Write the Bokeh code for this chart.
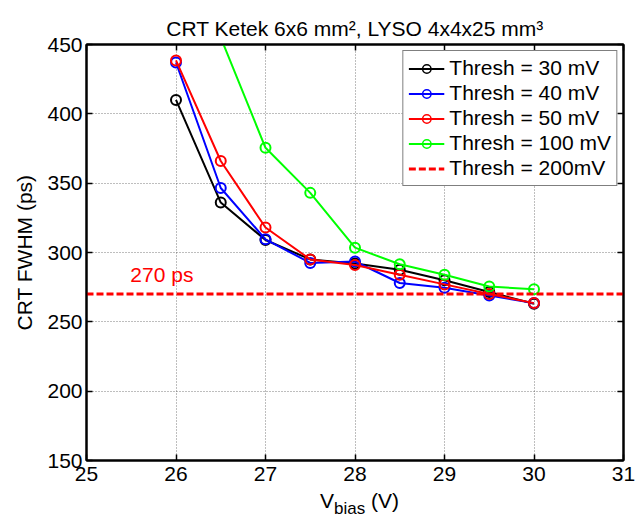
import numpy as np
from bokeh.plotting import figure
from bokeh.layouts import column
from bokeh.models import Range1d, LinearAxis, Label, Legend, LegendItem, FixedTicker, ColumnDataSource, Div
from bokeh.embed import file_html
from bokeh.resources import INLINE

# ---- data ----
vbias = [26, 26.5, 27, 27.5, 28, 28.5, 29, 29.5, 30]
crt_30mv = [410, 336, 309, 295, 292, 287.5, 280, 271.5, 263]
crt_40mv = [437, 346.5, 309.5, 292.5, 293.5, 278, 274.5, 269, 263.5]
crt_50mv = [438.5, 366, 318, 295, 291, 284, 277, 270, 263.5]
crt_100mv = [520, 455, 375.5, 343, 303.5, 291.5, 284, 275.5, 273.5]
thresh_200mv_level = 270
x_range_limits = [25, 31]
x_ticks = [25, 26, 27, 28, 29, 30, 31]
y_ticks = [150, 200, 250, 300, 350, 400, 450]
series_labels = ["Thresh = 30 mV", "Thresh = 40 mV", "Thresh = 50 mV", "Thresh = 100 mV"]
level_label = "Thresh = 200mV"
level_text = "270 ps"

FONT = "Liberation Sans"
colors = ["#000000", "#0000FF", "#FF0000", "#00FF00"]

p = figure(width=643, height=490, output_backend="svg", toolbar_location=None,
           x_range=Range1d(25, 31), y_range=Range1d(150, 450),
           min_border_left=86, min_border_right=20, min_border_top=44, min_border_bottom=30,
           background_fill_color="white", border_fill_color="white")

p.title.text = "CRT Ketek 6x6 mm\u00b2, LYSO 4x4x25 mm\u00b3"
p.title.align = "center"
p.title.text_font = FONT
p.title.text_font_style = "normal"
p.title.text_font_size = "21px"
p.title.text_color = "black"

p.outline_line_color = "black"
p.outline_line_width = 2

for ax in [p.xaxis[0], p.yaxis[0]]:
    ax.axis_line_width = 2
    ax.axis_line_color = "black"
    ax.major_tick_in = 6
    ax.major_tick_out = 0
    ax.major_tick_line_width = 1.5
    ax.minor_tick_line_color = None
    ax.major_label_text_font = FONT
    ax.major_label_text_font_size = "21px"
    ax.major_label_text_color = "black"
p.xaxis[0].ticker = FixedTicker(ticks=x_ticks)
p.yaxis[0].ticker = FixedTicker(ticks=y_ticks)
p.xaxis[0].major_label_standoff = 6
p.yaxis[0].major_label_standoff = 4
p.yaxis[0].axis_label = "CRT FWHM (ps)"
p.yaxis[0].axis_label_text_font = FONT
p.yaxis[0].axis_label_text_font_style = "normal"
p.yaxis[0].axis_label_text_font_size = "21px"
p.yaxis[0].axis_label_text_color = "black"
p.yaxis[0].axis_label_standoff = 8

for loc, tk in [("above", x_ticks), ("right", y_ticks)]:
    ax = LinearAxis(ticker=FixedTicker(ticks=tk), major_label_text_font_size="0px",
                    major_label_text_color=None,
                    major_tick_in=6, major_tick_out=0, major_tick_line_width=1.5,
                    minor_tick_line_color=None, axis_line_width=2, major_label_standoff=0)
    p.add_layout(ax, loc)

p.grid.grid_line_color = "#444444"
p.grid.grid_line_alpha = 0.7
p.grid.grid_line_dash = "1 2"
p.grid.grid_line_width = 1
p.xgrid.ticker = FixedTicker(ticks=x_ticks)
p.ygrid.ticker = FixedTicker(ticks=y_ticks)

items = []
for vals, col, lab in zip([crt_30mv, crt_40mv, crt_50mv, crt_100mv], colors, series_labels):
    src = ColumnDataSource(dict(x=vbias, y=vals))
    ln = p.line("x", "y", source=src, line_color=col, line_width=2)
    p.scatter("x", "y", source=src, marker="circle", size=10, line_color=col,
              line_width=2, fill_color=None)
    dummy = p.scatter(x=[np.nan], y=[np.nan], marker="circle", size=6, line_color=col,
                      line_width=1.5, fill_color=None)
    items.append(LegendItem(label=lab, renderers=[ln, dummy]))

lvl_src = ColumnDataSource(dict(x=x_range_limits, y=[thresh_200mv_level] * 2))
lvl = p.line("x", "y", source=lvl_src, line_color="#FF0000", line_width=3, line_dash="7 3")
items.append(LegendItem(label=level_label, renderers=[lvl]))

legend = Legend(items=items, location="top_right", margin=6, padding=5, spacing=1,
                label_text_font=FONT, label_text_font_size="21px", label_text_color="black",
                label_height=21, glyph_height=21, glyph_width=36, label_standoff=5,
                border_line_color="black", border_line_width=1.5,
                background_fill_color="white", background_fill_alpha=1.0)
p.add_layout(legend)

p.add_layout(Label(x=25.49, y=thresh_200mv_level, y_offset=20, text=level_text,
                   text_color="#FF0000", text_font=FONT, text_font_size="21px",
                   text_baseline="alphabetic"))

xlabel_html = (
    "<div style=\"margin-left:315px; font-family:'Liberation Sans'; font-size:21px; "
    "line-height:12px; color:black; white-space:nowrap;\">"
    "V<span style=\"font-size:17px; position:relative; top:6px;\">bias</span> (V)</div>"
)
xlabel = Div(text=xlabel_html, width=643, height=28)

layout = column(p, xlabel, spacing=0)
open("out.html", "w").write(file_html(layout, INLINE))
